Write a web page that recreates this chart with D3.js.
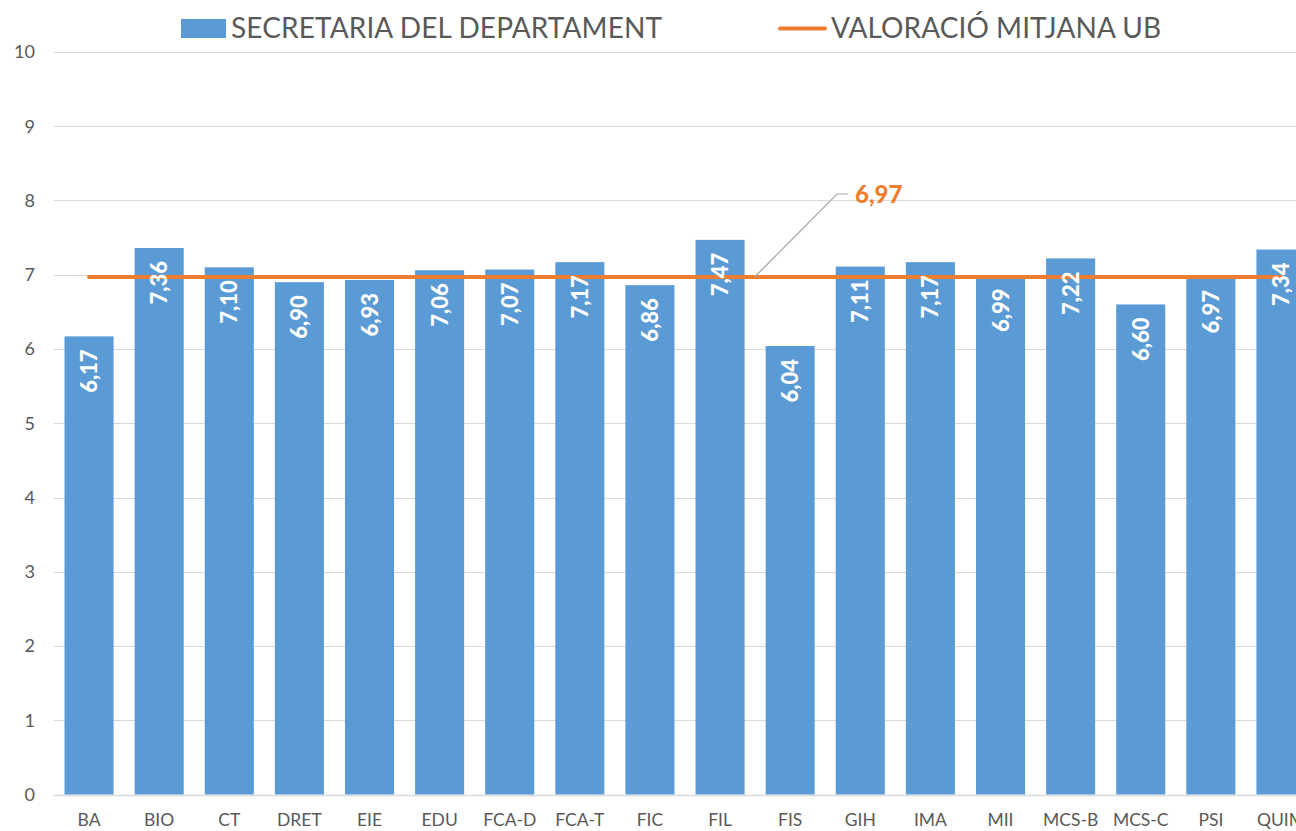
<!DOCTYPE html>
<html>
<head>
<meta charset="utf-8">
<script src="https://cdn.jsdelivr.net/npm/d3@7"></script>
<style>
  html, body { margin: 0; padding: 0; background: #fff; overflow: hidden; }
  svg { display: block; font-family: Lato, "Open Sans", sans-serif; }
</style>
</head>
<body>
<div class="chart"></div>
<script>
// Data
const categories = ["BA", "BIO", "CT", "DRET", "EIE", "EDU", "FCA-D", "FCA-T", "FIC", "FIL",
                    "FIS", "GIH", "IMA", "MII", "MCS-B", "MCS-C", "PSI", "QUIM"];
const secretaria = [6.17, 7.36, 7.10, 6.90, 6.93, 7.06, 7.07, 7.17, 6.86, 7.47,
                    6.04, 7.11, 7.17, 6.99, 7.22, 6.60, 6.97, 7.34];
const mitjanaUB = [6.97, 6.97, 6.97, 6.97, 6.97, 6.97, 6.97, 6.97, 6.97, 6.97,
                   6.97, 6.97, 6.97, 6.97, 6.97, 6.97, 6.97, 6.97];
const yTicks = [0, 1, 2, 3, 4, 5, 6, 7, 8, 9, 10];
const seriesNames = ["SECRETARIA DEL DEPARTAMENT", "VALORACIÓ MITJANA UB"];

// Canvas
let width = 1296, height = 831;
let svg = d3.select("div.chart").append("svg")
    .attr("width", width)
    .attr("height", height);

let blue = "#5b9bd5";
let orange = "#ed7d31";
let grey_text = "#595959";
let grid = "#d9d9d9";

// Scales (plot runs past the right edge, as in the cropped original)
let x = d3.scaleBand()
    .domain(categories)
    .range([54, 1316])
    .paddingInner(0.3)
    .paddingOuter(0.15);

let y = d3.scaleLinear()
    .domain([0, 10])
    .range([794.5, 52]);

// Gridlines
svg.append("g")
  .selectAll("line")
  .data(yTicks)
  .join("line")
    .attr("x1", 54)
    .attr("x2", width)
    .attr("y1", d => Math.round(y(d)) + 0.5)
    .attr("y2", d => Math.round(y(d)) + 0.5)
    .attr("stroke", grid)
    .attr("stroke-width", d => d === 0 ? 1.5 : 1);

// Y axis labels
let yAxis = svg.append("g")
    .attr("transform", "translate(35,0)")
    .call(d3.axisLeft(y).tickValues(yTicks).tickSize(0).tickPadding(0));
yAxis.select(".domain").remove();
yAxis.selectAll("text")
    .attr("fill", grey_text)
    .style("font-size", "18px")
    .style("font-family", "Lato, 'Open Sans', sans-serif");

// X axis labels
let xAxis = svg.append("g")
    .attr("transform", "translate(0,810)")
    .call(d3.axisBottom(x).tickSize(0).tickPadding(0));
xAxis.select(".domain").remove();
xAxis.selectAll("text")
    .attr("fill", grey_text)
    .attr("dy", "0.9em")
    .style("font-size", "17.5px")
    .style("font-family", "Lato, 'Open Sans', sans-serif");

// Bars
svg.append("g")
  .selectAll("rect")
  .data(secretaria)
  .join("rect")
    .attr("x", (d, i) => x(categories[i]))
    .attr("y", d => y(d))
    .attr("width", x.bandwidth())
    .attr("height", d => y(0) - y(d))
    .attr("fill", blue);

// Average line
let line = d3.line()
    .x((d, i) => x(categories[i]) + x.bandwidth() / 2)
    .y(d => y(d));

svg.append("path")
    .datum(mitjanaUB)
    .attr("d", line)
    .attr("fill", "none")
    .attr("stroke", orange)
    .attr("stroke-width", 4)
    .attr("stroke-linecap", "round");

// Bar labels, rotated, inside the top of each bar (drawn over the line)
svg.append("g")
  .selectAll("text")
  .data(secretaria)
  .join("text")
    .attr("transform", (d, i) =>
      "translate(" + (x(categories[i]) + x.bandwidth() / 2 + 8) + "," + (y(d) + 13) + ") rotate(-90)")
    .attr("text-anchor", "end")
    .attr("fill", "#fff")
    .style("font-size", "22px")
    .style("font-weight", "900")
    .text(d => d.toFixed(2).replace(".", ","));

// Callout for the average
let calloutIdx = 10;
let cx = x(categories[calloutIdx]) - 11;
let cy = y(mitjanaUB[calloutIdx]);
svg.append("polyline")
    .attr("points", [[cx, cy], [837, 194], [848, 194]].map(p => p.join(",")).join(" "))
    .attr("fill", "none")
    .attr("stroke", "#a6a6a6")
    .attr("stroke-width", 1.2);
svg.append("text")
    .attr("x", 855)
    .attr("y", 203)
    .attr("fill", orange)
    .style("font-size", "24px")
    .style("font-weight", "900")
    .text(mitjanaUB[calloutIdx].toFixed(2).replace(".", ","));

// Legend
let legend = svg.append("g");
legend.append("rect")
    .attr("x", 181).attr("y", 19)
    .attr("width", 45).attr("height", 19)
    .attr("fill", blue);
legend.append("text")
    .attr("x", 231).attr("y", 38)
    .attr("fill", grey_text)
    .attr("textLength", 431)
    .style("font-size", "28px")
    .text(seriesNames[0]);
legend.append("line")
    .attr("x1", 780).attr("x2", 825)
    .attr("y1", 28.5).attr("y2", 28.5)
    .attr("stroke", orange)
    .attr("stroke-width", 4)
    .attr("stroke-linecap", "round");
legend.append("text")
    .attr("x", 831).attr("y", 38)
    .attr("fill", grey_text)
    .attr("textLength", 330)
    .style("font-size", "28px")
    .text(seriesNames[1]);
</script>
</body>
</html>
